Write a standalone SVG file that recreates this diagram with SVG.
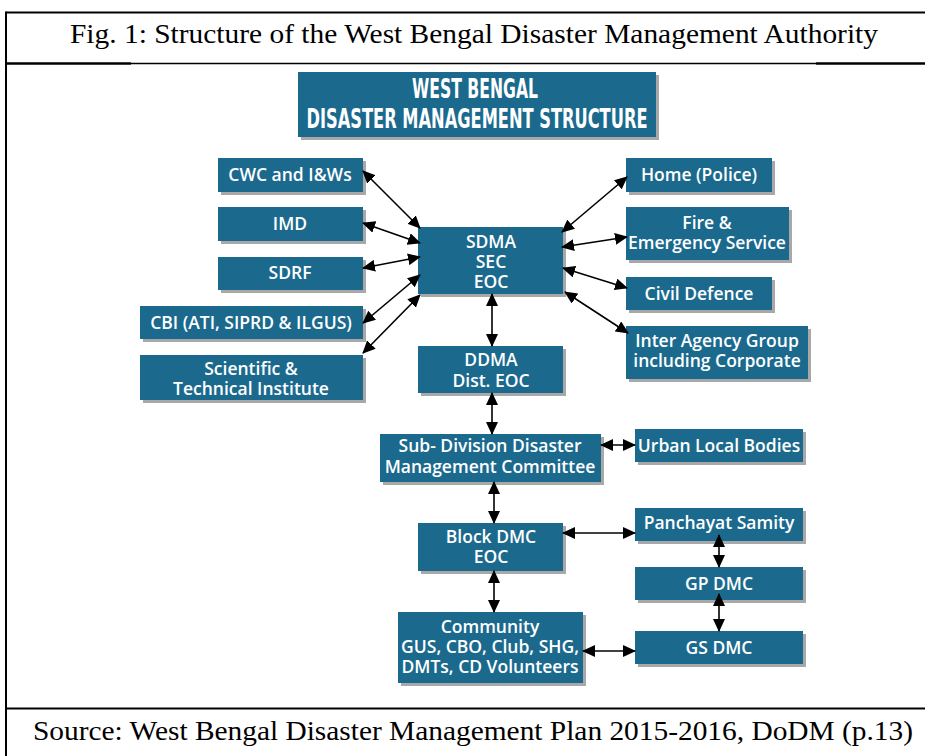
<svg xmlns="http://www.w3.org/2000/svg" width="925" height="756" viewBox="0 0 925 756">
<style>
.frame{stroke:#000;fill:none}
.cap{font-family:"Liberation Serif","Times New Roman",serif;font-size:28px;fill:#000}
.box{fill:#1b6a8e}
.sh{fill:#a8a8a8}
.lbl{font-family:"Open Sans","Noto Sans",sans-serif;font-weight:600;font-size:17.5px;fill:#fff;text-anchor:middle}
.hd{font-family:"Liberation Sans Narrow","DejaVu Sans Condensed","Liberation Sans",sans-serif;font-weight:bold;font-size:26px;fill:#fff;text-anchor:middle}
.c line{stroke:#000;stroke-width:1.6;marker-start:url(#ah);marker-end:url(#ah)}
</style>
<defs>
<marker id="ah" markerUnits="userSpaceOnUse" markerWidth="13" markerHeight="12" refX="12" refY="6" orient="auto-start-reverse">
<path d="M0,0 L13,6 L0,12 z" fill="#000"/>
</marker>
</defs>
<rect width="925" height="756" fill="#fff"/>
<g id="frame">
<line class="frame" x1="6" y1="12.5" x2="925" y2="12.5" stroke-width="2"/>
<line class="frame" x1="6" y1="11.5" x2="6" y2="756" stroke-width="2"/>
<line class="frame" x1="6" y1="63.5" x2="131" y2="63.5" stroke-width="2.4"/>
<line class="frame" x1="131" y1="63.5" x2="816" y2="63.5" stroke-width="1.4"/>
<line class="frame" x1="816" y1="63.5" x2="925" y2="63.5" stroke-width="2.4"/>
<line class="frame" x1="6" y1="708.5" x2="925" y2="708.5" stroke-width="2"/>
<text class="cap" x="474" y="43" text-anchor="middle" textLength="808" lengthAdjust="spacingAndGlyphs">Fig. 1: Structure of the West Bengal Disaster Management Authority</text>
<text class="cap" x="473" y="740" text-anchor="middle" textLength="880" lengthAdjust="spacingAndGlyphs">Source: West Bengal Disaster Management Plan 2015-2016, DoDM (p.13)</text>
</g>
<g id="title">
<rect class="sh" x="301" y="75" width="358" height="65"/>
<rect class="box" x="298" y="72" width="358" height="65"/>
<text class="hd" x="475" y="98" textLength="126" lengthAdjust="spacingAndGlyphs">WEST BENGAL</text>
<text class="hd" x="477" y="128" textLength="341" lengthAdjust="spacingAndGlyphs">DISASTER MANAGEMENT STRUCTURE</text>
</g>
<g id="cwc"><rect class="sh" x="221" y="161" width="145" height="34"/><rect class="box" x="218" y="158" width="145" height="34"/><text class="lbl" x="290" y="181">CWC and I&amp;Ws</text></g>
<g id="imd"><rect class="sh" x="221" y="210" width="145" height="34"/><rect class="box" x="218" y="207" width="145" height="34"/><text class="lbl" x="290" y="230">IMD</text></g>
<g id="sdrf"><rect class="sh" x="221" y="260" width="145" height="33"/><rect class="box" x="218" y="257" width="145" height="33"/><text class="lbl" x="290" y="279">SDRF</text></g>
<g id="cbi"><rect class="sh" x="143" y="309" width="223" height="33"/><rect class="box" x="140" y="306" width="223" height="33"/><text class="lbl" x="251" y="329">CBI (ATI, SIPRD &amp; ILGUS)</text></g>
<g id="sti"><rect class="sh" x="143" y="358" width="223" height="45"/><rect class="box" x="140" y="355" width="223" height="45"/><text class="lbl" x="251" y="375">Scientific &amp;</text><text class="lbl" x="251" y="395">Technical Institute</text></g>
<g id="sdma"><rect class="sh" x="421" y="230" width="145" height="67"/><rect class="box" x="418" y="227" width="145" height="67"/><text class="lbl" x="491" y="248">SDMA</text><text class="lbl" x="491" y="268">SEC</text><text class="lbl" x="491" y="288">EOC</text></g>
<g id="ddma"><rect class="sh" x="421" y="349" width="145" height="47"/><rect class="box" x="418" y="346" width="145" height="47"/><text class="lbl" x="491" y="366">DDMA</text><text class="lbl" x="491" y="387">Dist. EOC</text></g>
<g id="home"><rect class="sh" x="629" y="161" width="146" height="34"/><rect class="box" x="626" y="158" width="146" height="34"/><text class="lbl" x="699" y="181">Home (Police)</text></g>
<g id="fire"><rect class="sh" x="629" y="210" width="163" height="53"/><rect class="box" x="626" y="207" width="163" height="53"/><text class="lbl" x="707" y="229">Fire &amp;</text><text class="lbl" x="707" y="249">Emergency Service</text></g>
<g id="civil"><rect class="sh" x="629" y="280" width="146" height="33"/><rect class="box" x="626" y="277" width="146" height="33"/><text class="lbl" x="699" y="300">Civil Defence</text></g>
<g id="inter"><rect class="sh" x="629" y="329" width="182" height="53"/><rect class="box" x="626" y="326" width="182" height="53"/><text class="lbl" x="717" y="347">Inter Agency Group</text><text class="lbl" x="717" y="367">including Corporate</text></g>
<g id="subdiv"><rect class="sh" x="383" y="437" width="221" height="48"/><rect class="box" x="380" y="434" width="221" height="48"/><text class="lbl" x="490" y="452">Sub- Division Disaster</text><text class="lbl" x="490" y="473">Management Committee</text></g>
<g id="ulb"><rect class="sh" x="638" y="432" width="168" height="33"/><rect class="box" x="635" y="429" width="168" height="33"/><text class="lbl" x="719" y="452">Urban Local Bodies</text></g>
<g id="block"><rect class="sh" x="421" y="526" width="145" height="48"/><rect class="box" x="418" y="523" width="145" height="48"/><text class="lbl" x="491" y="543">Block DMC</text><text class="lbl" x="491" y="563">EOC</text></g>
<g id="panch"><rect class="sh" x="638" y="511" width="168" height="33"/><rect class="box" x="635" y="508" width="168" height="33"/><text class="lbl" x="719" y="529">Panchayat Samity</text></g>
<g id="gp"><rect class="sh" x="638" y="570" width="168" height="33"/><rect class="box" x="635" y="567" width="168" height="33"/><text class="lbl" x="719" y="590">GP DMC</text></g>
<g id="community"><rect class="sh" x="401" y="615" width="185" height="71"/><rect class="box" x="398" y="612" width="185" height="71"/><text class="lbl" x="490" y="633">Community</text><text class="lbl" x="490" y="653">GUS, CBO, Club, SHG,</text><text class="lbl" x="490" y="673">DMTs, CD Volunteers</text></g>
<g id="gs"><rect class="sh" x="638" y="634" width="168" height="33"/><rect class="box" x="635" y="631" width="168" height="33"/><text class="lbl" x="719" y="654">GS DMC</text></g>
<g id="connectors" class="c">
<line x1="363" y1="171" x2="420" y2="228"/>
<line x1="363" y1="223" x2="420" y2="243"/>
<line x1="363" y1="268" x2="420" y2="257"/>
<line x1="363" y1="323" x2="420" y2="275"/>
<line x1="363" y1="353" x2="420" y2="295"/>
<line x1="562" y1="232" x2="627" y2="177"/>
<line x1="562" y1="247" x2="627" y2="237"/>
<line x1="563" y1="268" x2="627" y2="288"/>
<line x1="565" y1="292" x2="628" y2="333"/>
<line x1="492" y1="294" x2="492" y2="346"/>
<line x1="492" y1="393" x2="492" y2="434"/>
<line x1="601" y1="445" x2="635" y2="445"/>
<line x1="494" y1="482" x2="494" y2="523"/>
<line x1="563" y1="533" x2="635" y2="533"/>
<line x1="719" y1="535" x2="719" y2="567"/>
<line x1="719" y1="594" x2="719" y2="631"/>
<line x1="494" y1="571" x2="494" y2="612"/>
<line x1="583" y1="651" x2="635" y2="651"/>
</g>
</svg>
